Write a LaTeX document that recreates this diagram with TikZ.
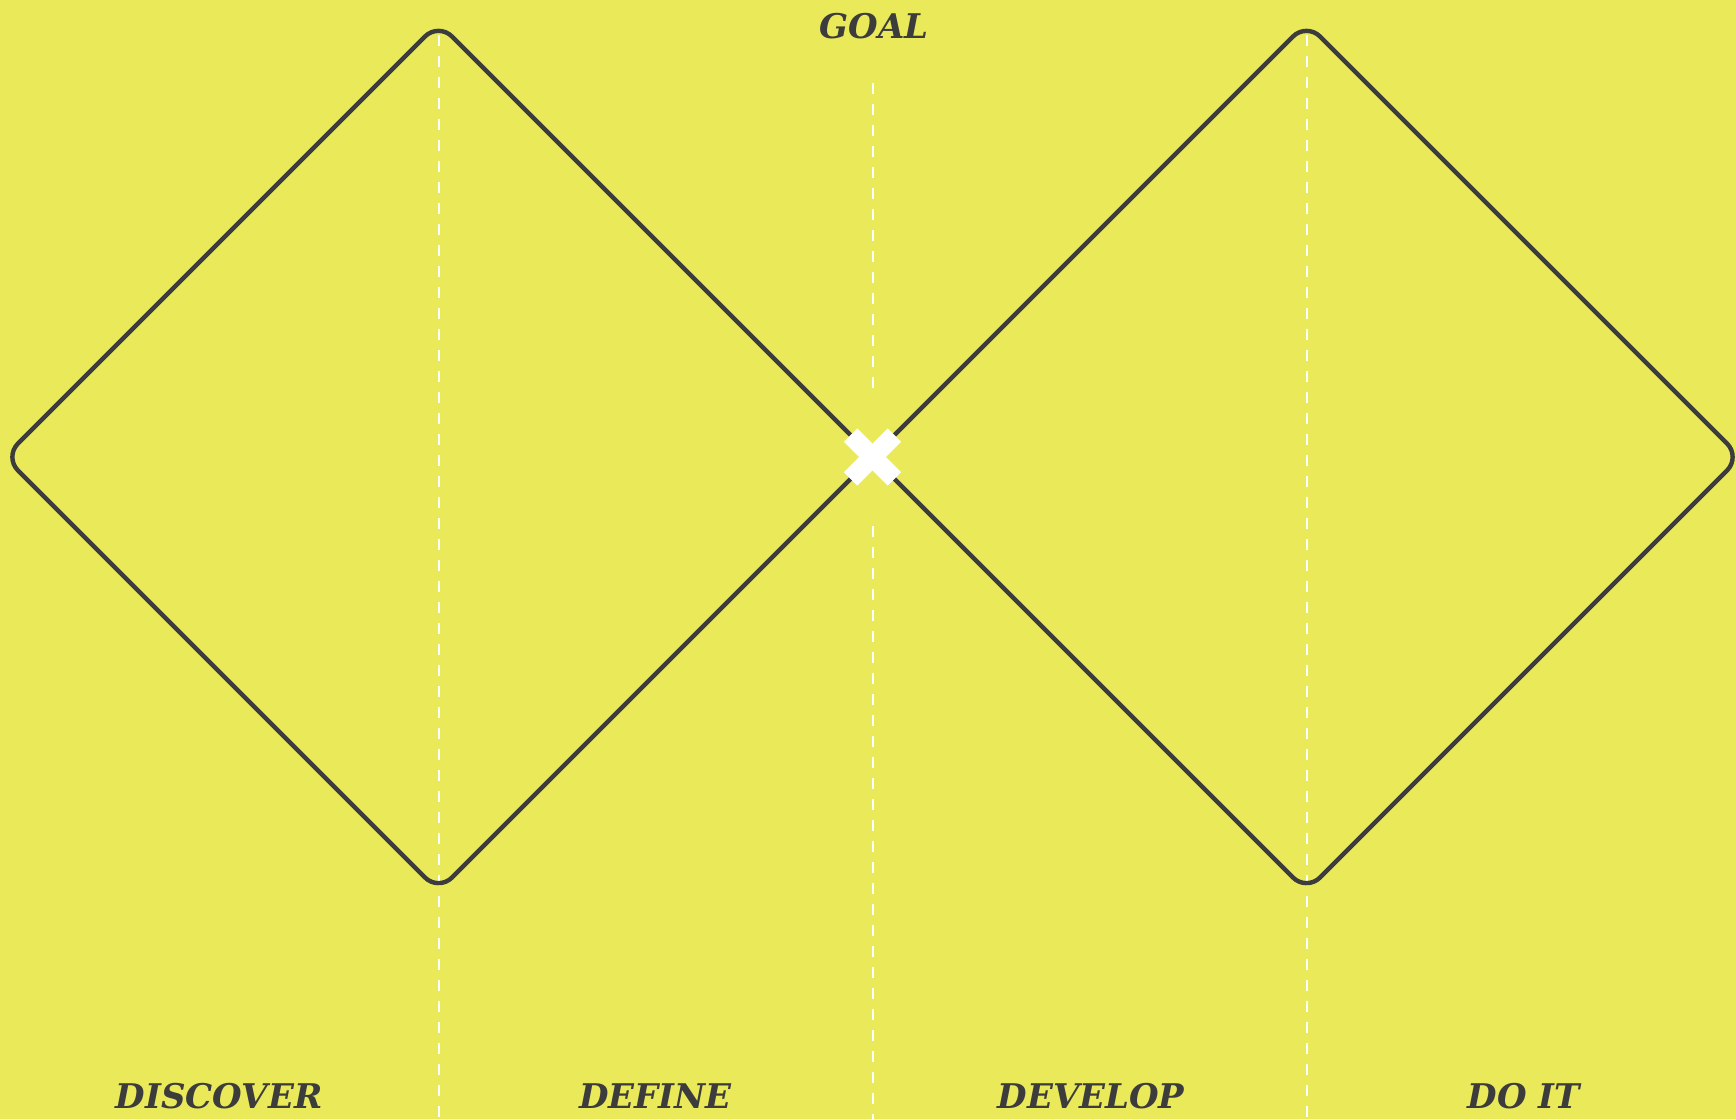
\documentclass[tikz,border=0pt]{standalone}
\usepackage{fontspec}
\setmainfont{DejaVu Serif}
\usetikzlibrary{calc}
\definecolor{bgyellow}{HTML}{E9E95A}
\definecolor{ink}{HTML}{3C3C3C}
\begin{document}
\begin{tikzpicture}[x=1pt,y=-1pt,
  diamondline/.style={draw=ink,line width=4.4pt,rounded corners=19pt,line join=round},
  guide/.style={draw=white,line width=2pt,dash pattern=on 11pt off 10pt},
  phase/.style={font=\bfseries\itshape\fontsize{34}{34}\selectfont,text=ink,anchor=base},
  xbar/.style={fill=white}]
\fill[bgyellow] (0,0) rectangle (1736,1119);
\useasboundingbox (0,0) rectangle (1736,1119);
% guides
\coordinate (g1t) at (438.5,35);
\coordinate (g1b) at (438.5,1119);
\coordinate (g2t) at (872.5,83);
\coordinate (g2m) at (872.5,393);
\coordinate (g2n) at (872.5,526);
\coordinate (g2b) at (872.5,1119);
\coordinate (g3t) at (1306.5,35);
\coordinate (g3b) at (1306.5,1119);
\draw[guide] (g1t) -- (g1b);
\draw[guide] (g2t) -- (g2m);
\draw[guide] (g2n) -- (g2b);
\draw[guide] (g3t) -- (g3b);
% diamonds
\coordinate (c) at (872.5,457);
\coordinate (l1t) at (438.5,23);
\coordinate (l1l) at (4.5,457);
\coordinate (l1b) at (438.5,891);
\coordinate (r2t) at (1306.5,23);
\coordinate (r2r) at (1740.5,457);
\coordinate (r2b) at (1306.5,891);
\draw[diamondline] (c) -- (l1t) -- (l1l) -- (l1b) -- cycle;
\draw[diamondline] (c) -- (r2t) -- (r2r) -- (r2b) -- cycle;
% cross
\fill[xbar,rotate around={45:(c)}] ($(c)+(-31,-9.5)$) rectangle ($(c)+(31,9.5)$);
\fill[xbar,rotate around={-45:(c)}] ($(c)+(-31,-9.5)$) rectangle ($(c)+(31,9.5)$);
% labels
\node[phase] (goal) at (874,38) {GOAL};
\node[phase] (discover) at (219,1108) {DISCOVER};
\node[phase] (define) at (655.5,1108) {DEFINE};
\node[phase] (develop) at (1091,1108) {DEVELOP};
\node[phase] (doit) at (1524,1108) {DO IT};
\end{tikzpicture}
\end{document}
